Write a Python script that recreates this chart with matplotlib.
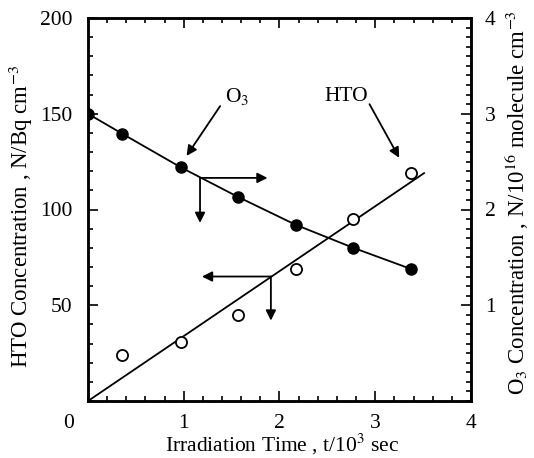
import matplotlib
matplotlib.use("Agg")
import matplotlib.pyplot as plt
from matplotlib.ticker import MultipleLocator, FixedLocator

plt.rcParams['font.family'] = ['Liberation Serif', 'DejaVu Serif']
plt.rcParams['mathtext.fontset'] = 'stix'

# Data
time_o3 = [0.0, 0.36, 0.97, 1.57, 2.17, 2.77, 3.37]
o3_conc = [3.00, 2.79, 2.44, 2.13, 1.84, 1.60, 1.38]   # N/10^16 molecule cm^-3 (right axis)
time_hto = [0.36, 0.97, 1.57, 2.17, 2.77, 3.37]
hto_conc = [24, 31, 45, 69, 95, 119]                 # N/Bq cm^-3 (left axis)
hto_fit_t = [0.0, 3.51]
hto_fit_c = [0.0, 119.0]

W, H = 534, 458
fig = plt.figure(figsize=(W / 100, H / 100), dpi=100)
ax = fig.add_axes([88 / W, 1 - 401 / H, 383 / W, 383 / H])
ax2 = ax.twinx()

# HTO (left axis)
ax.plot(hto_fit_t, hto_fit_c, color='k', lw=1.3, zorder=2)
ax.plot(time_hto, hto_conc, 'o', ms=8, mfc='white', mec='k', mew=1.3, zorder=3)

# O3 (right axis)
ax2.plot(time_o3, o3_conc, color='k', lw=1.3, zorder=2)
ax2.plot(time_o3, o3_conc, 'o', ms=8, mfc='k', mec='k', zorder=3)

ax.set_xlim(0, 4)
ax.set_ylim(0, 200)
ax2.set_ylim(0, 4)

fs = 15.5
ax.xaxis.set_major_locator(FixedLocator([1, 2, 3, 4]))
ax.xaxis.set_minor_locator(MultipleLocator(0.2))
ax.yaxis.set_major_locator(FixedLocator([50, 100, 150, 200]))
ax.yaxis.set_minor_locator(MultipleLocator(10))
ax2.yaxis.set_major_locator(FixedLocator([1, 2, 3, 4]))
ax2.yaxis.set_minor_locator(MultipleLocator(0.1))

ax.tick_params(axis='both', which='both', direction='in', top=True, labelsize=fs, width=1.2)
ax.tick_params(axis='y', which='both', right=False)
ax.tick_params(which='major', length=7)
ax.tick_params(axis='x', which='major', pad=9)
ax.tick_params(axis='y', which='major', pad=11)
ax.tick_params(which='minor', length=3.5)
ax2.tick_params(axis='y', which='both', direction='in', labelsize=fs, width=1.2)
ax2.tick_params(which='major', length=7, pad=10)
ax2.tick_params(which='minor', length=3.5)

for a in (ax, ax2):
    for s in a.spines.values():
        s.set_linewidth(1.8)

# corner zero label
fig.text(69 / W, 1 - 424 / H, "0", fontsize=fs, ha='center', va='center')

# axis titles
fig.text(282 / W, 1 - 451 / H, r"Irradiation Time , t/10$^{3}$ sec", fontsize=15.5,
         ha='center', va='baseline')
fig.text(21 / W, 1 - 217 / H, r"HTO Concentration , N/Bq cm$^{-3}$", fontsize=16.5,
         ha='center', va='center', rotation=90)
fig.text(517 / W, 1 - 203 / H, r"O$_{3}$ Concentration , N/10$^{16}$ molecule cm$^{-3}$",
         fontsize=16.5, ha='center', va='center', rotation=90)

arrow = dict(arrowstyle='-|>', lw=1.3, color='k', mutation_scale=15, shrinkA=0, shrinkB=0)

# Labels with arrows
ax.text(1.56, 159, r"O$_3$", fontsize=fs, ha='center', va='center')
ax.annotate("", xy=(1.03, 128), xytext=(1.38, 154), arrowprops=arrow)
ax.text(2.70, 159, "HTO", fontsize=fs, ha='center', va='center')
ax.annotate("", xy=(3.25, 127), xytext=(2.94, 155), arrowprops=arrow)

# Axis-pointing arrows for O3
ax.annotate("", xy=(1.875, 116.5), xytext=(1.17, 116.5), arrowprops=arrow)
ax.annotate("", xy=(1.17, 93), xytext=(1.17, 116.5), arrowprops=arrow)
# Axis-pointing arrows for HTO
ax.annotate("", xy=(1.19, 65), xytext=(1.91, 65), arrowprops=arrow)
ax.annotate("", xy=(1.91, 42), xytext=(1.91, 65), arrowprops=arrow)

fig.savefig("out.png", dpi=100)
